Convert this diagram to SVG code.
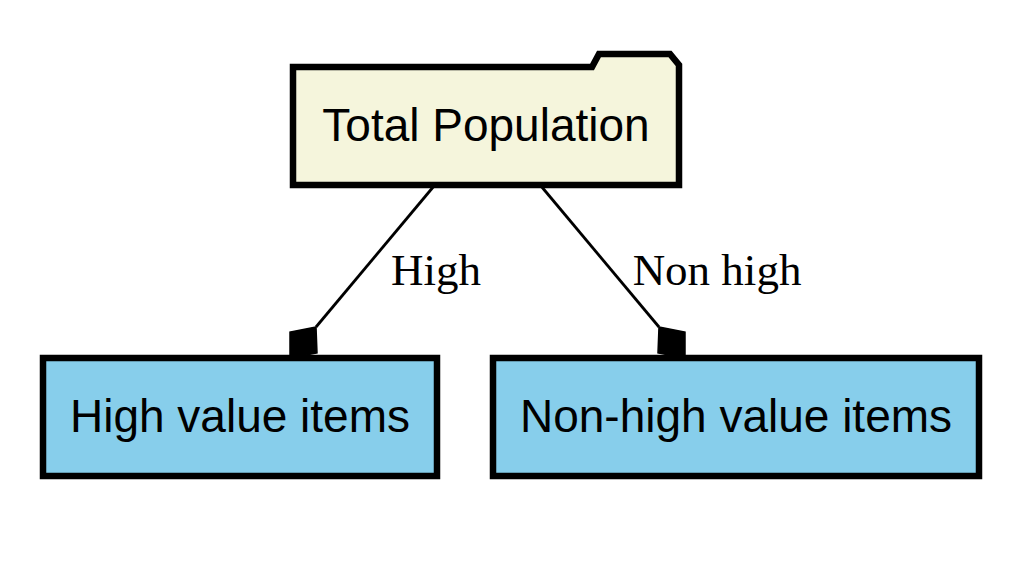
<svg xmlns="http://www.w3.org/2000/svg" width="1036" height="579" viewBox="0 0 1036 579">
<style>
.node{stroke:#000;stroke-width:6.5;stroke-linejoin:miter}
.lbl{font-family:"Liberation Sans",Arial,sans-serif;font-size:46px;fill:#000;text-anchor:middle}
.elbl{font-family:"Liberation Serif","Times New Roman",serif;font-size:45px;fill:#000;text-anchor:middle}
.edge{stroke:#000;stroke-width:2.8;fill:none}
.head{fill:#000;stroke:#000;stroke-width:1.5;stroke-linejoin:miter}
</style>
<rect x="0" y="0" width="1036" height="579" fill="#fff"/>
<g id="edges">
  <g id="edge-high">
    <line class="edge" x1="434" y1="186" x2="316" y2="327"/>
    <polygon class="head" points="316,327 290,332 290,358 317,353"/>
    <text class="elbl" x="436" y="285">High</text>
  </g>
  <g id="edge-nonhigh">
    <line class="edge" x1="541" y1="186" x2="659" y2="327"/>
    <polygon class="head" points="659,327 685,332 685,358 658,353"/>
    <text class="elbl" x="717" y="285">Non high</text>
  </g>
</g>
<g id="node-total">
  <path class="node" fill="#f5f5dc" d="M293,67 H592 L599,54 H670 L679,65 V185 H293 Z"/>
  <text class="lbl" x="486" y="141">Total Population</text>
</g>
<g id="node-high">
  <rect class="node" fill="#87ceeb" x="43" y="358" width="394" height="118"/>
  <text class="lbl" x="240" y="432">High value items</text>
</g>
<g id="node-nonhigh">
  <rect class="node" fill="#87ceeb" x="493" y="358" width="486" height="118"/>
  <text class="lbl" x="736" y="432">Non-high value items</text>
</g>
</svg>
